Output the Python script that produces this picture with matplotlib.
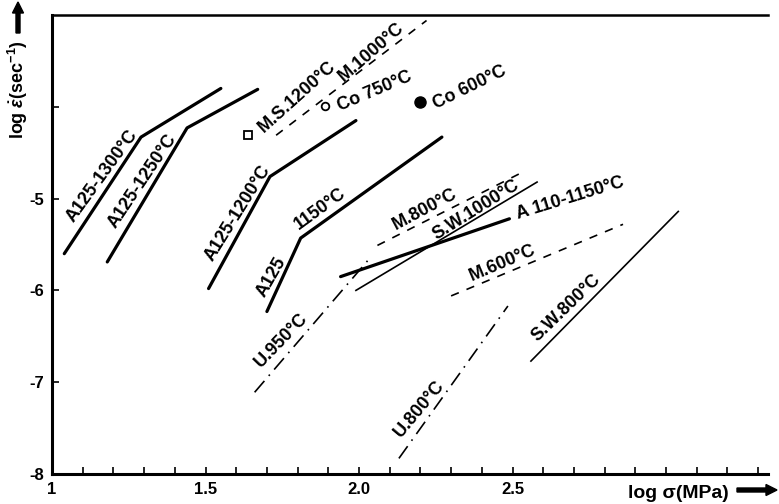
import matplotlib
matplotlib.use("Agg")
import matplotlib.pyplot as plt
import numpy as np

plt.rcParams["mathtext.fontset"] = "custom"
plt.rcParams["mathtext.rm"] = "Liberation Sans:bold"
plt.rcParams["mathtext.it"] = "Liberation Sans:bold:italic"
plt.rcParams["mathtext.bf"] = "Liberation Sans:bold"

# ---- data (log sigma [MPa], log strain-rate [1/s]) ----
a1300_x = [1.04, 1.29, 1.55]; a1300_y = [-5.60, -4.33, -3.80]
a1250_x = [1.18, 1.44, 1.67]; a1250_y = [-5.69, -4.23, -3.81]
a1200_x = [1.51, 1.71, 1.99]; a1200_y = [-5.98, -4.76, -4.15]
a1150_x = [1.70, 1.81, 2.27]; a1150_y = [-6.23, -5.43, -4.33]
a110_x = [1.94, 2.49]; a110_y = [-5.85, -5.22]
sw1000_x = [1.99, 2.58]; sw1000_y = [-6.00, -4.82]
sw800_x = [2.56, 3.04]; sw800_y = [-6.77, -5.14]
m1000_x = [1.73, 2.22]; m1000_y = [-4.31, -3.06]
m800_x = [2.06, 2.54]; m800_y = [-5.51, -4.70]
m600_x = [2.30, 2.86]; m600_y = [-6.06, -5.28]
u950_x = [1.66, 2.04]; u950_y = [-7.11, -5.63]
u800_x = [2.13, 2.485]; u800_y = [-7.83, -6.17]
ms1200_pt = (1.64, -4.31)
co750_pt = (1.89, -3.99)
co600_pt = (2.20, -3.95)

labels = ["A125-1300°C", "A125-1250°C", "A125-1200°C", "A125", "1150°C",
          "M.S.1200°C", "M.1000°C", "Co 750°C", "Co 600°C", "M.800°C",
          "S.W.1000°C", "A 110-1150°C", "M.600°C", "S.W.800°C", "U.950°C", "U.800°C"]
label_pos = [(1.162, -4.75), (1.296, -4.81), (1.605, -5.16), (1.716, -5.86), (1.875, -5.11),
             (1.80, -3.89), (2.039, -3.40), (2.050, -3.83), (2.360, -3.79), (2.215, -5.12),
             (2.381, -5.12), (2.687, -5.00), (2.466, -5.70), (2.676, -6.19), (1.746, -6.54), (2.196, -7.29)]
label_rot = [54, 56, 58, 60, 36, 42, 41, 23, 26, 28, 32, 17, 23, 44, 46, 50]

xticks = [1.0, 1.5, 2.0, 2.5]
xticklabels = ["1", "1.5", "2.0", "2.5"]
yticks = [-8, -7, -6, -5, -4]
yticklabels = ["-8", "-7", "-6", "-5", ""]

W, H = 779, 504
fig = plt.figure(figsize=(W / 100, H / 100), dpi=100)
L, R, B, T = 52, 768, 474, 15
ax = fig.add_axes([L / W, (H - B) / H, (R - L) / W, (B - T) / H])
ax.set_xlim(1.0, 1.0 + (R - L) / 307.0)
ax.set_ylim(-8.0, -3.0)

fam = "Liberation Sans"
k = "black"
thick = 2.3
thin = 1.2

for xs, ys in [(a1300_x, a1300_y), (a1250_x, a1250_y), (a1200_x, a1200_y),
               (a1150_x, a1150_y), (a110_x, a110_y)]:
    ax.plot(xs, ys, color=k, lw=thick, solid_capstyle="round")
for xs, ys in [(sw1000_x, sw1000_y), (sw800_x, sw800_y)]:
    ax.plot(xs, ys, color=k, lw=thin)
for xs, ys in [(m1000_x, m1000_y), (m800_x, m800_y), (m600_x, m600_y)]:
    ax.plot(xs, ys, color=k, lw=thin, dashes=(5, 5))
for xs, ys in [(u950_x, u950_y), (u800_x, u800_y)]:
    ax.plot(xs, ys, color=k, lw=thin, dashes=(9, 4, 1, 4))

ax.plot(*ms1200_pt, marker="s", ms=5.5, mfc="white", mec=k, mew=1.3)
ax.plot(*co750_pt, marker="o", ms=5.5, mfc="white", mec=k, mew=1.3)
ax.plot(*co600_pt, marker="o", ms=8, mfc=k, mec=k)

for txt, (x, y), r in zip(labels, label_pos, label_rot):
    ax.text(x, y, txt, rotation=r, rotation_mode="anchor", ha="center", va="center",
            fontsize=13, fontweight="bold", family=fam)

# spines / ticks
ax.spines["right"].set_visible(False)
ax.spines["left"].set_linewidth(2.2)
ax.spines["bottom"].set_linewidth(2.2)
ax.spines["top"].set_linewidth(1.8)
ax.set_xticks(xticks)
ax.set_xticklabels(xticklabels, fontsize=12, fontweight="bold", family=fam)
ax.set_xticks(np.arange(1.1, 3.31, 0.1), minor=True)
ax.set_yticks(yticks)
ax.set_yticklabels(yticklabels, fontsize=12, fontweight="bold", family=fam)
ax.tick_params(axis="x", which="both", direction="in", length=5, width=1.2, top=False, pad=6)
ax.tick_params(axis="y", which="both", direction="in", length=5, width=1.2, right=False, pad=6)

# axis labels with arrows
fig.text(678 / W, 1 - 493 / H, "log σ(MPa)", ha="center", va="center",
         fontsize=14, fontweight="bold", family=fam)
fig.patches.append(matplotlib.patches.FancyArrow(
    737 / W, 1 - 490 / H, 40 / W, 0, width=4 / H, head_width=11 / H, head_length=11 / W,
    length_includes_head=True, color=k, transform=fig.transFigure, figure=fig))
fig.text(18 / W, 1 - 90 / H, r"log $\dot{\varepsilon}$(sec$^{-1}$)", rotation=90,
         ha="center", va="center", fontsize=13, fontweight="bold", family=fam)
fig.patches.append(matplotlib.patches.FancyArrow(
    18 / W, 1 - 33 / H, 0, 31 / H, width=4 / W, head_width=11 / W, head_length=11 / H,
    length_includes_head=True, color=k, transform=fig.transFigure, figure=fig))

fig.savefig("out.png", dpi=100)
